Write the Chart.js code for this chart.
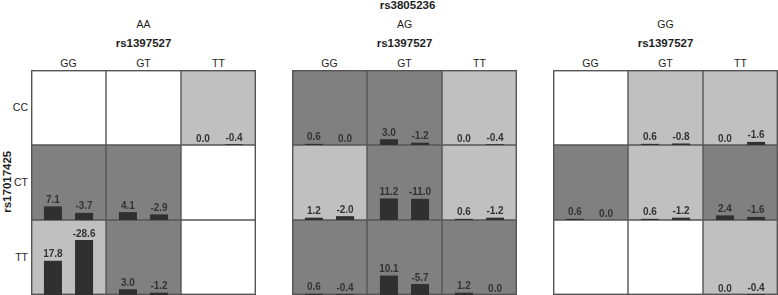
<!DOCTYPE html>
<html><head><meta charset="utf-8">
<script src="https://cdn.jsdelivr.net/npm/chart.js@4.4.1/dist/chart.umd.min.js"></script>
<style>
html,body{margin:0;padding:0;background:#fff;width:778px;height:295px;overflow:hidden;font-family:"Liberation Sans",Arial,sans-serif;color:#1e1e1e}
.t{position:absolute;white-space:nowrap;line-height:1;text-align:center}
.b{font-weight:bold;font-size:11.5px}
.n{font-size:10.5px}
.cv{position:absolute}
</style></head><body>
<div id="root"></div>
<script>
// ---------- data ----------
const outerTitle = 'rs3805236';
const panelNames = ['AA', 'AG', 'GG'];
const colTitle = 'rs1397527';
const rowTitle = 'rs17017425';
const colLabels = ['GG', 'GT', 'TT'];
const rowLabels = ['CC', 'CT', 'TT'];

// row-major: CC(GG,GT,TT), CT(GG,GT,TT), TT(GG,GT,TT)
const aaFirst  = [null, null, 0.0,    7.1, 4.1, null,    17.8, 3.0, null];
const aaSecond = [null, null, -0.4,   -3.7, -2.9, null,  -28.6, -1.2, null];
const aaShade  = ['white', 'white', 'light',  'dark', 'dark', 'white',  'light', 'dark', 'white'];

const agFirst  = [0.6, 3.0, 0.0,      1.2, 11.2, 0.6,    0.6, 10.1, 1.2];
const agSecond = [0.0, -1.2, -0.4,    -2.0, -11.0, -1.2, -0.4, -5.7, 0.0];
const agShade  = ['dark', 'dark', 'light',  'light', 'dark', 'light',  'dark', 'dark', 'dark'];

const ggFirst  = [null, 0.6, 0.0,     0.6, 0.6, 2.4,     null, null, 0.0];
const ggSecond = [null, -0.8, -1.6,   0.0, -1.2, -1.6,   null, null, -0.4];
const ggShade  = ['white', 'light', 'light',  'dark', 'light', 'dark',  'white', 'white', 'light'];

// ---------- styling / layout ----------
const shadeColors = {white: '#ffffff', light: '#c0c0c0', dark: '#808080'};
const barColor = '#303030';
const lineColor = '#555555';
const panelLeft = [31, 292, 553];
const gridTop = 70;
const gridSize = 225;
const yMax = 39;

const root = document.getElementById('root');
function addText(txt, cls, left, top, width, extra) {
  const d = document.createElement('div');
  d.className = 't ' + cls;
  d.textContent = txt;
  d.style.left = left + 'px';
  d.style.top = top + 'px';
  d.style.width = width + 'px';
  if (extra) Object.assign(d.style, extra);
  root.appendChild(d);
  return d;
}

// overall title
addText(outerTitle, 'b', 0, 0, 815);
// left labels
rowLabels.forEach((r, i) => {
  addText(r, 'n', 0, gridTop + i * 75 + 32, 28, {textAlign: 'right'});
});
addText(rowTitle, 'b', -42, 176, 100, {transform: 'rotate(-90deg)'});

const cellPlugin = {
  id: 'cells',
  beforeDatasetsDraw(chart, args, opts) {
    const ctx = chart.ctx;
    const xs = chart.scales.x;
    const half = (xs.getPixelForValue(1) - xs.getPixelForValue(0)) / 2;
    ctx.save();
    rowLabels.forEach((r, ri) => {
      const ys = chart.scales['row' + ri];
      colLabels.forEach((c, ci) => {
        const cx = xs.getPixelForValue(ci);
        ctx.fillStyle = shadeColors[opts.shade[ri * 3 + ci]];
        ctx.fillRect(cx - half, ys.top, 2 * half, ys.bottom - ys.top);
      });
    });
    ctx.strokeStyle = lineColor;
    ctx.lineWidth = 1.4;
    const a = chart.chartArea;
    ctx.strokeRect(a.left + 0.7, a.top + 0.7, a.right - a.left - 1.4, a.bottom - a.top - 1.4);
    ctx.beginPath();
    for (let ci = 1; ci < colLabels.length; ci++) {
      const x = xs.getPixelForValue(ci) - half;
      ctx.moveTo(x, a.top); ctx.lineTo(x, a.bottom);
    }
    for (let ri = 1; ri < rowLabels.length; ri++) {
      const y = chart.scales['row' + ri].top;
      ctx.moveTo(a.left, y); ctx.lineTo(a.right, y);
    }
    ctx.stroke();
    ctx.restore();
  },
  afterDatasetsDraw(chart) {
    const ctx = chart.ctx;
    ctx.save();
    ctx.font = 'bold 10px "Liberation Sans", Arial, sans-serif';
    ctx.fillStyle = '#333333';
    ctx.textAlign = 'center';
    ctx.textBaseline = 'alphabetic';
    chart.data.datasets.forEach((ds, di) => {
      const meta = chart.getDatasetMeta(di);
      ds.signed.forEach((v, i) => {
        if (v === null) return;
        const el = meta.data[i];
        ctx.fillText(v.toFixed(1), el.x, el.y - 3.5);
      });
    });
    ctx.restore();
  }
};

function makePanel(p, first, second, shade) {
  const left = panelLeft[p];
  addText(panelNames[p], 'n', left, 19, gridSize);
  addText(colTitle, 'b', left, 38, gridSize);
  colLabels.forEach((c, ci) => addText(c, 'n', left + ci * 75, 58, 75));

  const canvas = document.createElement('canvas');
  canvas.className = 'cv';
  canvas.width = gridSize; canvas.height = gridSize;
  canvas.style.left = left + 'px';
  canvas.style.top = gridTop + 'px';
  canvas.style.width = gridSize + 'px';
  canvas.style.height = gridSize + 'px';
  root.appendChild(canvas);

  const datasets = [];
  const scales = {
    x: {type: 'category', display: false, offset: true, grid: {display: false}}
  };
  // left-side stacked axes are placed in reverse order, so add the bottom row first
  for (let ri = rowLabels.length - 1; ri >= 0; ri--) {
    scales['row' + ri] = {type: 'linear', position: 'left', stack: 'rows', stackWeight: 1,
      min: 0, max: yMax, display: false, stacked: false};
  }
  rowLabels.forEach((r, ri) => {
    const a = colLabels.map((c, ci) => first[ri * 3 + ci]);
    const b = colLabels.map((c, ci) => second[ri * 3 + ci]);
    const common = {yAxisID: 'row' + ri, backgroundColor: barColor, borderWidth: 0,
      categoryPercentage: 0.83, barPercentage: 0.58};
    datasets.push(Object.assign({label: r + ' 1', data: a.map(v => v === null ? null : Math.abs(v)), signed: a, stack: 's1'}, common));
    datasets.push(Object.assign({label: r + ' 2', data: b.map(v => v === null ? null : Math.abs(v)), signed: b, stack: 's2'}, common));
  });

  new Chart(canvas, {
    type: 'bar',
    data: {labels: colLabels, datasets},
    options: {
      responsive: false,
      animation: false,
      devicePixelRatio: 1,
      layout: {padding: 0},
      scales,
      plugins: {legend: {display: false}, tooltip: {enabled: false}, cells: {shade}}
    },
    plugins: [cellPlugin]
  });
}

makePanel(0, aaFirst, aaSecond, aaShade);
makePanel(1, agFirst, agSecond, agShade);
makePanel(2, ggFirst, ggSecond, ggShade);
</script>
</body></html>
